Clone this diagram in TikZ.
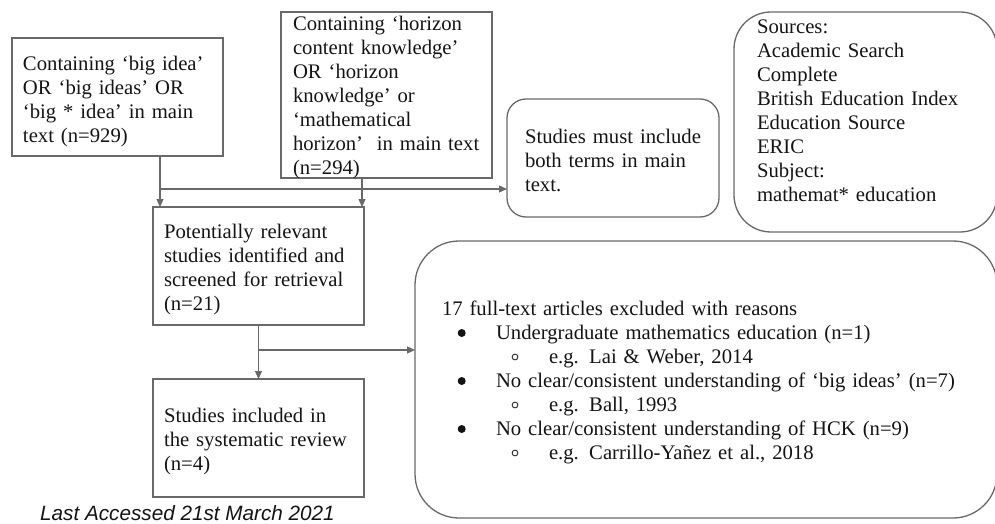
\documentclass[tikz,border=0pt]{standalone}
\usepackage{fontspec}
\setmainfont{Liberation Serif}
\setsansfont{Liberation Sans}
\usetikzlibrary{arrows.meta}
\definecolor{lc}{RGB}{105,105,105}
\definecolor{tc}{RGB}{20,20,20}
\begin{document}
\begin{tikzpicture}[x=1pt,y=-1pt,
  boxstyle/.style={draw=lc,line width=1.3pt,inner sep=0pt,outer sep=0pt},
  txt/.style={anchor=north west,inner sep=0pt,outer sep=0pt,align=left,text width=#1,
    font=\fontsize{20.7}{24}\selectfont,text=tc,execute at begin node=\strut},
  arr/.style={draw=lc,line width=1.3pt,-{Triangle[length=8pt,width=7pt]}},
  bul/.style={fill=tc},
  subbul/.style={draw=tc,line width=0.8pt}]
\useasboundingbox (0,0) rectangle (995,524);
\clip (0,0) rectangle (995,524);

% boxes
\node[boxstyle,minimum width=211pt,minimum height=118pt] (A) at (117.5,97) {};
\node[boxstyle,minimum width=211pt,minimum height=166pt] (B) at (386.5,95) {};
\node[boxstyle,rounded corners=19pt,minimum width=212pt,minimum height=118pt] (C) at (613,158) {};
\node[boxstyle,minimum width=211pt,minimum height=118pt] (D) at (258.5,266) {};
\node[boxstyle,minimum width=211pt,minimum height=118pt] (E) at (258.5,438) {};
\node[boxstyle,rounded corners=37pt,minimum width=263pt,minimum height=220pt] (S) at (865.5,122) {};
\node[boxstyle,rounded corners=44pt,minimum width=582pt,minimum height=277pt] (X) at (706,379.5) {};

% texts
\node[txt=205pt] (tA) at (23,71-16.8) {Containing ‘big idea’\\OR ‘big ideas’ OR\\‘big * idea’ in main\\text (n=929)};
\node[txt=205pt] (tB) at (293,31-16.8) {Containing ‘horizon\\content knowledge’\\OR ‘horizon\\knowledge’ or\\‘mathematical\\horizon’~ in main text\\(n=294)};
\node[txt=205pt] (tC) at (525,143-16.8) {Studies must include\\both terms in main\\text.};
\node[txt=205pt] (tD) at (164,238-16.8) {Potentially relevant\\studies identified and\\screened for retrieval\\(n=21)};
\node[txt=205pt] (tE) at (164,422-16.8) {Studies included in\\the systematic review\\(n=4)};
\node[txt=235pt] (tS) at (757,34-16.8) {Sources:\\Academic Search\\Complete\\British Education Index\\Education Source\\ERIC\\Subject:\\mathemat* education};
\node[txt=540pt] (tX) at (442,315-16.8) {17 full-text articles excluded with reasons\\
\hspace*{54pt}Undergraduate mathematics education (n=1)\\
\hspace*{107pt}e.g. Lai \& Weber, 2014\\
\hspace*{54pt}No clear/consistent understanding of ‘big ideas’ (n=7)\\
\hspace*{107pt}e.g. Ball, 1993\\
\hspace*{54pt}No clear/consistent understanding of HCK (n=9)\\
\hspace*{107pt}e.g. Carrillo-Yañez et al., 2018};

% list markers
\fill[bul] (461.7,333) circle (4);
\fill[bul] (461.7,381) circle (4);
\fill[bul] (461.7,429) circle (4);
\draw[subbul] (515,357) circle (2.9);
\draw[subbul] (515,405) circle (2.9);
\draw[subbul] (515,453) circle (2.9);

\node[anchor=base west,inner sep=0pt,font=\sffamily\itshape\fontsize{20.7}{24}\selectfont,text=tc] (note) at (40,520.5) {Last Accessed 21st March 2021};

% connectors
\coordinate (xa) at (160,0);
\coordinate (xb) at (362,0);
\coordinate (j1) at (160,189);
\coordinate (j2) at (258.5,350);
\draw[arr] (A.south -| xa) -- (D.north -| xa);
\draw[arr] (B.south -| xb) -- (D.north -| xb);
\draw[arr] (j1) -- (C.west |- j1);
\draw[arr] (D.south) -- (E.north);
\draw[arr] (j2) -- (X.west |- j2);
\end{tikzpicture}
\end{document}
